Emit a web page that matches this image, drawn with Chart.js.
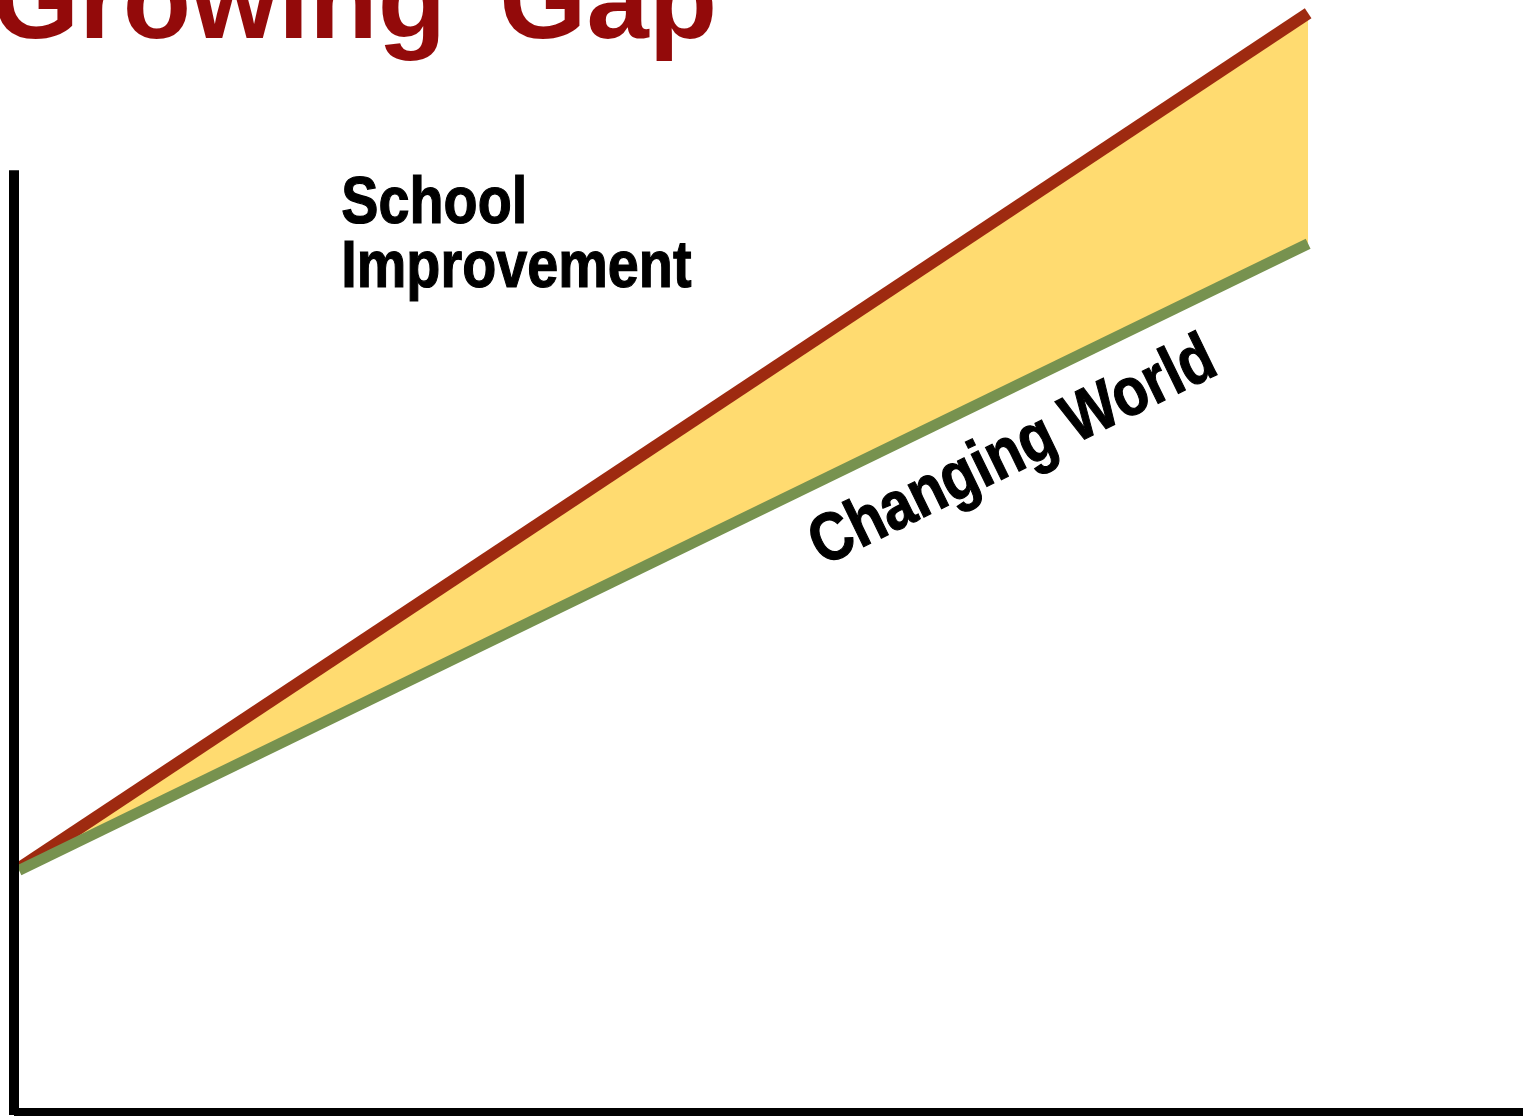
<!DOCTYPE html>
<html>
<head>
<meta charset="utf-8">
<script src="https://cdn.jsdelivr.net/npm/chart.js@4.4.1/dist/chart.umd.min.js"></script>
<style>
  html, body { margin: 0; padding: 0; background: #fff; overflow: hidden; }
  #page { width: 1523px; height: 1116px; overflow: hidden; }
  /* a little taller than the page so the thick bottom axis runs off the edge */
  #wrap { position: relative; width: 1523px; height: 1121px; }
</style>
</head>
<body>
<div id="page"><div id="wrap"><canvas id="gapChart"></canvas></div></div>
<script>
// steps along the (unlabelled) time axis
const steps = [0, 6];
// the two trends (0 = bottom axis, 100 = top edge)
const changingWorld = [21.8, 78.1];
const schoolImprovement = [22.0, 98.8];

const titleText = 'Growing Gap';
const worldLabel = 'Changing World';
const schoolLabel = ['School', 'Improvement'];

const squeeze = 0.845; // labels are set tight and condensed

function heavyText(ctx, text, x, y) {
    ctx.fillText(text, x, y);
    ctx.strokeText(text, x, y);
}

// title, left axis and the two hand-placed labels
const decorations = {
    id: 'decorations',
    afterDraw(chart) {
        const { ctx, chartArea, scales: { x, y } } = chart;
        ctx.save();

        // left axis stops short of the top
        ctx.strokeStyle = '#000';
        ctx.lineWidth = 10;
        ctx.beginPath();
        ctx.moveTo(chartArea.left - 5, y.getPixelForValue(84.7));
        ctx.lineTo(chartArea.left - 5, chartArea.bottom + 2);
        ctx.stroke();

        // title, partly off the top of the page
        ctx.fillStyle = '#930a0a';
        ctx.font = 'bold 112px "Liberation Sans", Arial, sans-serif';
        ctx.textBaseline = 'alphabetic';
        ctx.textAlign = 'left';
        ctx.wordSpacing = '22px';
        ctx.fillText(titleText, -8, 38);
        ctx.wordSpacing = '0px';

        // School Improvement
        ctx.fillStyle = '#000';
        ctx.strokeStyle = '#000';
        ctx.lineWidth = 1.2;
        ctx.font = 'bold 66px "Liberation Sans", Arial, sans-serif';
        ctx.save();
        ctx.translate(x.getPixelForValue(1.5), y.getPixelForValue(80));
        ctx.scale(squeeze, 1);
        schoolLabel.forEach((line, i) => heavyText(ctx, line, 0, i * 64));
        ctx.restore();

        // Changing World, turned to follow its line
        const angle = Math.atan2(
            y.getPixelForValue(changingWorld[1]) - y.getPixelForValue(changingWorld[0]),
            x.getPixelForValue(steps[1]) - x.getPixelForValue(steps[0])
        );
        ctx.font = 'bold 68px "Liberation Sans", Arial, sans-serif';
        ctx.translate(x.getPixelForValue(3.74), y.getPixelForValue(49.1));
        ctx.rotate(angle);
        ctx.scale(squeeze, 1);
        heavyText(ctx, worldLabel, 0, 0);

        ctx.restore();
    }
};

new Chart(document.getElementById('gapChart'), {
    type: 'line',
    data: {
        datasets: [
            {
                label: worldLabel,
                data: steps.map((s, i) => ({ x: s, y: changingWorld[i] })),
                borderColor: '#77924f',
                borderWidth: 11,
                pointRadius: 0,
                fill: false,
                clip: false
            },
            {
                label: schoolLabel.join(' '),
                data: steps.map((s, i) => ({ x: s, y: schoolImprovement[i] })),
                borderColor: '#9e2a10',
                backgroundColor: '#ffdb70',
                borderWidth: 12,
                pointRadius: 0,
                fill: '-1',
                clip: false
            }
        ]
    },
    options: {
        responsive: true,
        maintainAspectRatio: false,
        animation: false,
        layout: {
            padding: { left: 19, right: 0, top: 0, bottom: 0 }
        },
        scales: {
            x: {
                type: 'linear',
                min: 0,
                max: 7,
                grid: { display: false },
                ticks: { display: false },
                border: { display: true, color: '#000', width: 10 }
            },
            y: {
                type: 'linear',
                min: 0,
                max: 100,
                display: false
            }
        },
        plugins: {
            legend: { display: false },
            tooltip: { enabled: false }
        }
    },
    plugins: [decorations]
});
</script>
</body>
</html>
